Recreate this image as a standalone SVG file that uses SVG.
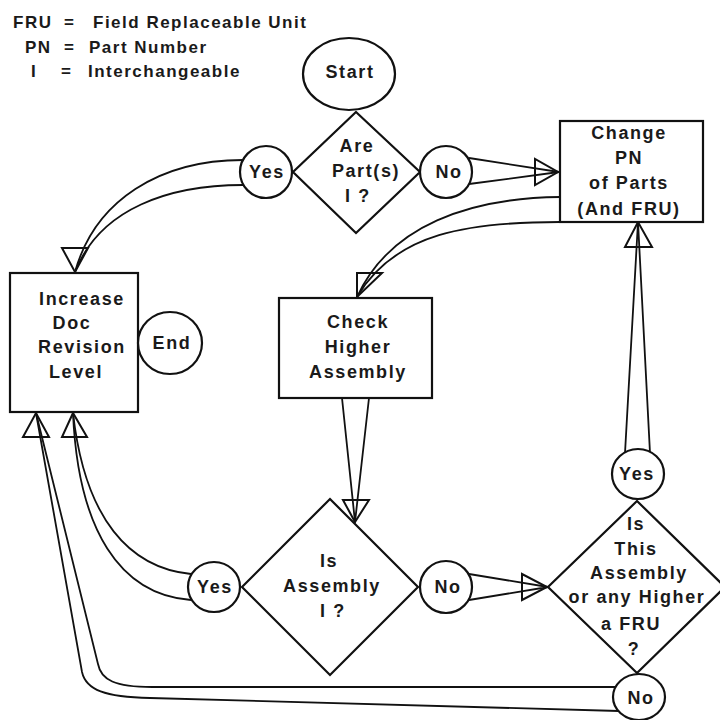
<svg xmlns="http://www.w3.org/2000/svg" width="720" height="720" viewBox="0 0 720 720">
  <style>
    .shape { fill: #fff; stroke: #111; stroke-width: 2.2; }
    .wire { fill: none; stroke: #111; stroke-width: 1.8; stroke-linejoin: round; }
    .head { fill: none; stroke: #111; stroke-width: 2; stroke-linejoin: miter; }
    text { font-family: "Liberation Sans", Arial, Helvetica, sans-serif; font-weight: bold; fill: #1a1a1a; }
    .lbl { font-size: 18px; letter-spacing: 1.6px; text-anchor: middle; }
    .key { font-size: 17px; letter-spacing: 1.5px; }
  </style>

  <rect width="720" height="720" fill="#fff"/>

  <!-- legend -->
  <g id="legend">
    <text class="key" x="13" y="28">FRU</text>
    <text class="key" x="64" y="28">=</text>
    <text class="key" x="93" y="28">Field Replaceable Unit</text>
    <text class="key" x="25" y="53">PN</text>
    <text class="key" x="64" y="53">=</text>
    <text class="key" x="89" y="53">Part Number</text>
    <text class="key" x="31" y="77">I</text>
    <text class="key" x="61" y="77">=</text>
    <text class="key" x="88" y="77">Interchangeable</text>
  </g>

  <!-- connectors: paired converging lines ending in open triangles -->
  <g id="connectors">
    <!-- Yes (top) to Increase Doc Revision Level -->
    <path class="wire" d="M243,160 C160,160 95,200 75,272"/>
    <path class="wire" d="M243,185 C170,185 100,208 75,272"/>
    <polygon class="head" points="62,248 88,248 75,272"/>

    <!-- No (top) to Change PN -->
    <path class="wire" d="M469,158 L559,172 L469,184"/>
    <polygon class="head" points="535,159 535,185 558,172"/>

    <!-- Change PN to Check Higher Assembly -->
    <path class="wire" d="M560,197 C470,198 390,225 357,297"/>
    <path class="wire" d="M560,222 C470,222 395,232 357,297"/>
    <polygon class="head" points="357,273 382,273 357,297"/>

    <!-- Check Higher Assembly to Is Assembly I ? -->
    <path class="wire" d="M342,398 L355,522 L369,398"/>
    <polygon class="head" points="343,500 369,500 355,522"/>

    <!-- Yes (middle) to Increase Doc Revision Level -->
    <path class="wire" d="M191,574 C130,568 85,520 73,413"/>
    <path class="wire" d="M191,600 C120,595 78,530 73,413"/>
    <polygon class="head" points="62,437 87,437 73,413"/>

    <!-- No (middle) to Is This Assembly a FRU ? -->
    <path class="wire" d="M469,574 L548,587 L469,600"/>
    <polygon class="head" points="522,574 522,600 547,587"/>

    <!-- Yes (right) up to Change PN -->
    <path class="wire" d="M625,453 L638,222 L650,453"/>
    <polygon class="head" points="625,247 652,247 638,222"/>

    <!-- No (bottom) back to Increase Doc Revision Level -->
    <path class="wire" d="M619,711 L150,698 C105,697 86,690 82,672 L36,413"/>
    <path class="wire" d="M616,687 L152,687 C115,687 101,680 98,664 L36,413"/>
    <polygon class="head" points="23,437 49,437 36,413"/>
  </g>

  <g id="start">
    <ellipse class="shape" cx="349" cy="74" rx="46" ry="36"/>
    <text class="lbl" x="350" y="78">Start</text>
  </g>

  <g id="are-parts-i">
    <polygon class="shape" points="356,112 420,172 356,233 293,172"/>
    <text class="lbl" x="357" y="152">Are</text>
    <text class="lbl" x="366" y="177">Part(s)</text>
    <text class="lbl" x="358" y="202">I  ?</text>
  </g>

  <g id="yes-1">
    <ellipse class="shape" cx="266" cy="172" rx="26" ry="26"/>
    <text class="lbl" x="267" y="178">Yes</text>
  </g>

  <g id="no-1">
    <ellipse class="shape" cx="446" cy="172" rx="26" ry="26"/>
    <text class="lbl" x="449" y="178">No</text>
  </g>

  <g id="change-pn">
    <rect class="shape" x="560" y="121" width="143" height="101"/>
    <text class="lbl" x="629" y="139">Change</text>
    <text class="lbl" x="629" y="164">PN</text>
    <text class="lbl" x="629" y="189">of Parts</text>
    <text class="lbl" x="629" y="215">(And FRU)</text>
  </g>

  <g id="increase-doc">
    <rect class="shape" x="10" y="273" width="128" height="139"/>
    <text class="lbl" x="82" y="305">Increase</text>
    <text class="lbl" x="72" y="329">Doc</text>
    <text class="lbl" x="82" y="353">Revision</text>
    <text class="lbl" x="76" y="378">Level</text>
  </g>

  <g id="end">
    <ellipse class="shape" cx="170" cy="343" rx="32" ry="31"/>
    <text class="lbl" x="172" y="353" dy="-4">End</text>
  </g>

  <g id="check-higher">
    <rect class="shape" x="279" y="298" width="153" height="100"/>
    <text class="lbl" x="358" y="328">Check</text>
    <text class="lbl" x="358" y="353">Higher</text>
    <text class="lbl" x="358" y="378">Assembly</text>
  </g>

  <g id="is-assembly-i">
    <polygon class="shape" points="330,499 418,587 330,675 242,587"/>
    <text class="lbl" x="329" y="567">Is</text>
    <text class="lbl" x="332" y="592">Assembly</text>
    <text class="lbl" x="333" y="617">I  ?</text>
  </g>

  <g id="yes-2">
    <ellipse class="shape" cx="214" cy="587" rx="26" ry="25"/>
    <text class="lbl" x="215" y="593">Yes</text>
  </g>

  <g id="no-2">
    <ellipse class="shape" cx="446" cy="587" rx="26" ry="26"/>
    <text class="lbl" x="448" y="593">No</text>
  </g>

  <g id="is-fru">
    <polygon class="shape" points="637,501 725,587 637,673 548,587"/>
    <text class="lbl" x="636" y="530">Is</text>
    <text class="lbl" x="636" y="555">This</text>
    <text class="lbl" x="639" y="579">Assembly</text>
    <text class="lbl" x="637" y="603">or any Higher</text>
    <text class="lbl" x="631" y="630">a  FRU</text>
    <text class="lbl" x="634" y="655">?</text>
  </g>

  <g id="yes-3">
    <ellipse class="shape" cx="638" cy="474" rx="26" ry="25"/>
    <text class="lbl" x="637" y="480">Yes</text>
  </g>

  <g id="no-3">
    <ellipse class="shape" cx="639" cy="697" rx="26" ry="23"/>
    <text class="lbl" x="641" y="704">No</text>
  </g>
</svg>
